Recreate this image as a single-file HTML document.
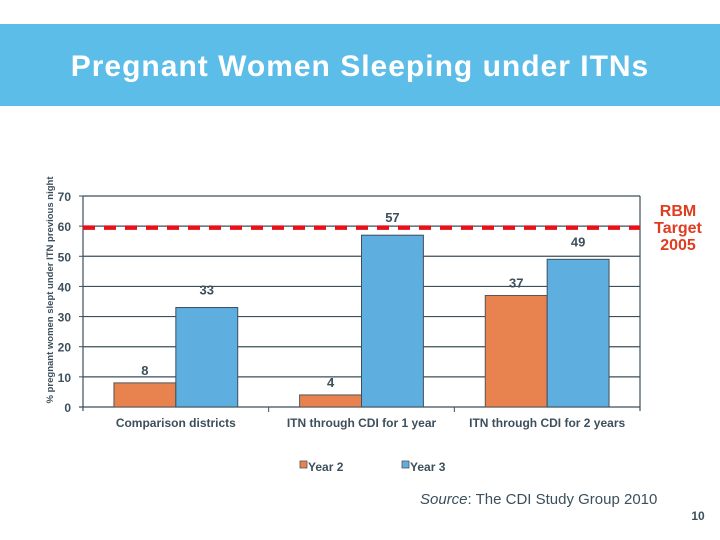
<!DOCTYPE html>
<html><head><meta charset="utf-8"><style>
body{margin:0;width:720px;height:540px;background:#fff;overflow:hidden;font-family:"Liberation Sans",sans-serif;position:relative}
.hdr{position:absolute;left:0;top:24px;width:720px;height:82px;background:#5cbde8}
.hdr h1{margin:0;position:absolute;left:0;width:720px;top:26px;text-align:center;color:#fff;font-size:30px;font-weight:bold;letter-spacing:1px;white-space:nowrap}
</style></head><body>
<div class="hdr"><h1>Pregnant Women Sleeping under ITNs</h1></div>
<svg id="c" width="720" height="540" style="position:absolute;left:0;top:0"></svg>
<script>
const categories=["Comparison districts","ITN through CDI for 1 year","ITN through CDI for 2 years"];
const year2=[8,4,37];
const year3=[33,57,49];
const yTicks=[0,10,20,30,40,50,60,70];
const target=[59.5];
const NS="http://www.w3.org/2000/svg";
const svg=document.getElementById('c');
const X0=83,X1=640,Y0=407,Y1=196,YMAX=70;
const y=v=>Y0-(v/YMAX)*(Y0-Y1);
const cw=(X1-X0)/categories.length;
const x=i=>X0+i*cw;
function mk(t,a,txt){const e=document.createElementNS(NS,t);for(const k in a)e.setAttribute(k,a[k]);if(txt!=null)e.textContent=txt;svg.appendChild(e);return e;}
yTicks.forEach(v=>{
 if(v>0){const g=mk('line',{x1:X0,x2:X1,y1:y(v),y2:y(v),stroke:'#3c4f5c','stroke-width':1.2});
 
 }
 const t=mk('text',{x:X0-12,y:y(v)+5,'text-anchor':'end','font-size':12,'font-weight':'bold',fill:'#3c4f5c'},v);
 
 
});
mk('line',{x1:X0,x2:X0,y1:Y1,y2:Y0+4,stroke:'#3c4f5c','stroke-width':1.2});
mk('line',{x1:X1,x2:X1,y1:Y1,y2:Y0+4,stroke:'#3c4f5c','stroke-width':1.2});
mk('line',{x1:X0-4,x2:X1,y1:Y0,y2:Y0,stroke:'#3c4f5c','stroke-width':1.2});
yTicks.forEach(v=>mk('line',{x1:X0-4,x2:X0,y1:y(v),y2:y(v),stroke:'#3c4f5c'}));
for(let i=1;i<categories.length;i++)mk('line',{x1:x(i),x2:x(i),y1:Y0,y2:Y0+5,stroke:'#3c4f5c'});
const bw=cw/3;
categories.forEach((c,i)=>{
 const bx=x(i)+cw/6;
 const b2=mk('rect',{x:bx,y:y(year2[i]),width:bw,height:Y0-y(year2[i]),fill:'#e8834f',stroke:'#555','stroke-width':1});
 
 
 const b3=mk('rect',{x:bx+bw,y:y(year3[i]),width:bw,height:Y0-y(year3[i]),fill:'#5eaee0',stroke:'#3c4f5c','stroke-width':1});
 
 
 const l2=mk('text',{x:bx+bw/2,y:y(year2[i])-8,'text-anchor':'middle','font-size':13,'font-weight':'bold',fill:'#3c4f5c'},year2[i]);
 
 
 const l3=mk('text',{x:bx+bw*1.5,y:y(year3[i])-13,'text-anchor':'middle','font-size':13,'font-weight':'bold',fill:'#3c4f5c'},year3[i]);
 
 
 const cl=mk('text',{x:x(i)+cw/2,y:427,'text-anchor':'middle','font-size':12,'font-weight':'bold',fill:'#3c4f5c'},c);
 
 
});
const tl=mk('line',{x1:X0,x2:X1,y1:y(target[0]),y2:y(target[0]),stroke:'#e8101a','stroke-width':4.5,'stroke-dasharray':'12 9'});


[['RBM',216],['Target',233],['2005',250]].forEach(([t,yy])=>{const e=mk('text',{x:678,y:yy,'text-anchor':'middle','font-size':16,'font-weight':'bold',fill:'#e03c20'},t);
 
 });
const yt=mk('text',{transform:'translate(53,290) rotate(-90)','text-anchor':'middle','font-size':9.5,'font-weight':'bold',fill:'#3c4f5c'},'% pregnant women slept under ITN previous night');


[['Year 2','#e8834f',300],['Year 3','#5eaee0',402]].forEach(([t,c,lx],i)=>{
 mk('rect',{x:lx,y:461,width:7,height:7,fill:c,stroke:'#555','stroke-width':0.8});
 const e=mk('text',{x:lx+8,y:471,'font-size':12,'font-weight':'bold',fill:'#3c4f5c'},t);
 
 
});
const s=mk('text',{x:420,y:504,'font-size':15,fill:'#3c4f5c'});
s.innerHTML='<tspan font-style="italic">Source</tspan>: The CDI Study Group 2010';


const pn=mk('text',{x:698,y:520,'text-anchor':'middle','font-size':12,'font-weight':'bold',fill:'#3c4f5c'},'10');


</script>
</body></html>
